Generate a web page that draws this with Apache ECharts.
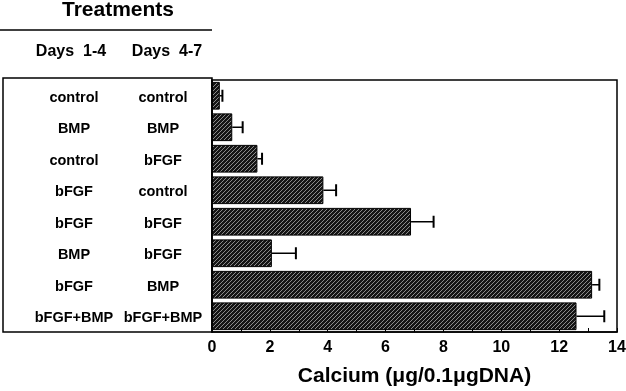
<!DOCTYPE html>
<html><head><meta charset="utf-8">
<script src="https://cdn.jsdelivr.net/npm/echarts@6/dist/echarts.min.js"></script>
<style>html,body{margin:0;padding:0;background:#fff}#c{width:626px;height:391px}</style>
</head><body><div id="c"></div>
<script>
const days1to4 = ['control','BMP','control','bFGF','bFGF','BMP','bFGF','bFGF+BMP'];
const days4to7 = ['control','BMP','bFGF','control','bFGF','bFGF','BMP','bFGF+BMP'];
const calcium = [0.27, 0.70, 1.57, 3.85, 6.88, 2.07, 13.14, 12.60];
const errors  = [0.09, 0.36, 0.16, 0.44, 0.78, 0.83, 0.25, 0.96];
const xTicks = [0, 2, 4, 6, 8, 10, 12, 14];

const categories = days1to4.map((d, i) => d + ' / ' + days4to7[i]);

// hatch pattern
const pc = document.createElement('canvas');
pc.width = 4; pc.height = 4;
const g = pc.getContext('2d');
g.fillStyle = '#151515'; g.fillRect(0, 0, 4, 4);
g.strokeStyle = '#999'; g.lineWidth = 0.9;
g.beginPath();
g.moveTo(0, 4); g.lineTo(4, 0);
g.moveTo(-1, 1); g.lineTo(1, -1);
g.moveTo(3, 5); g.lineTo(5, 3);
g.stroke();

const FONT = '"Liberation Sans", Arial, Helvetica, sans-serif';
const chart = echarts.init(document.getElementById('c'), null, {renderer: 'canvas'});
chart.setOption({
  animation: false,
  backgroundColor: '#fff',
  textStyle: {fontFamily: FONT},
  grid: {left: 212, right: 9, top: 80, bottom: 59, show: true, borderColor: '#000', borderWidth: 1.5,
         backgroundColor: 'transparent', containLabel: false, outerBoundsMode: 'none'},
  xAxis: {
    type: 'value', min: xTicks[0], max: xTicks[xTicks.length - 1], interval: 2,
    axisLine: {show: true, lineStyle: {color: '#000', width: 1.5}},
    axisTick: {show: true, inside: true, length: 4, lineStyle: {color: '#000', width: 1}},
    minorTick: {show: true, splitNumber: 2, length: 4, lineStyle: {color: '#000', width: 1}},
    splitLine: {show: false},
    axisLabel: {color: '#000', fontFamily: FONT, fontWeight: 'bold', fontSize: 16, margin: 8},
    name: 'Calcium (\u03bcg/0.1\u03bcgDNA)', nameLocation: 'middle', nameGap: 34, nameMoveOverlap: false,
    nameTextStyle: {color: '#000', fontFamily: FONT, fontWeight: 'bold', fontSize: 21}
  },
  yAxis: {
    type: 'category', inverse: true, data: categories,
    axisLine: {show: true, lineStyle: {color: '#000', width: 1.5}},
    axisTick: {show: false},
    axisLabel: {
      margin: 9,
      formatter: (v, i) => '{a|' + days1to4[i] + '}{b|' + days4to7[i] + '}',
      rich: {
        a: {width: 98, align: 'center', color: '#000', fontFamily: FONT, fontWeight: 'bold', fontSize: 14.5, padding: [4, 0, 0, 0]},
        b: {width: 80, align: 'center', color: '#000', fontFamily: FONT, fontWeight: 'bold', fontSize: 14.5, padding: [4, 0, 0, 0]}
      }
    }
  },
  graphic: [
    {type: 'text', x: 118, y: 10, style: {text: 'Treatments', font: 'bold 21px ' + FONT, fill: '#000', align: 'center', verticalAlign: 'middle'}},
    {type: 'line', shape: {x1: 0, y1: 30, x2: 212, y2: 30}, style: {stroke: '#000', lineWidth: 1.5}},
    {type: 'text', x: 71, y: 52, style: {text: 'Days  1-4', font: 'bold 16px ' + FONT, fill: '#000', align: 'center', verticalAlign: 'middle'}},
    {type: 'text', x: 167, y: 52, style: {text: 'Days  4-7', font: 'bold 16px ' + FONT, fill: '#000', align: 'center', verticalAlign: 'middle'}},
    {type: 'rect', shape: {x: 3, y: 78, width: 209, height: 254}, style: {fill: 'none', stroke: '#000', lineWidth: 1.5}, z: 100}
  ],
  series: [
    {
      type: 'bar', data: calcium, barCategoryGap: '12%',
      itemStyle: {color: {image: pc, repeat: 'repeat'}, borderColor: '#000', borderWidth: 1}
    },
    {
      type: 'custom',
      data: calcium.map((v, i) => [i, v, v + errors[i]]),
      encode: {x: [1, 2], y: 0},
      renderItem: (params, api) => {
        const p0 = api.coord([api.value(1), api.value(0)]);
        const p1 = api.coord([api.value(2), api.value(0)]);
        const h = 6;
        return {type: 'group', children: [
          {type: 'line', shape: {x1: p0[0], y1: p0[1], x2: p1[0], y2: p1[1]}, style: {stroke: '#000', lineWidth: 1.5}},
          {type: 'line', shape: {x1: p1[0], y1: p1[1] - h, x2: p1[0], y2: p1[1] + h}, style: {stroke: '#000', lineWidth: 2}}
        ]};
      },
      z: 10
    }
  ]
});
</script></body></html>
